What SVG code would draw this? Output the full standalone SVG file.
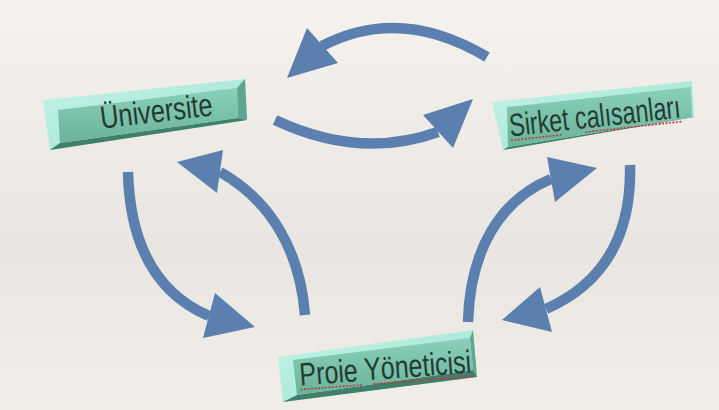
<svg xmlns="http://www.w3.org/2000/svg" width="719" height="410" viewBox="0 0 719 410">
<defs>
<linearGradient id="bg" x1="0" y1="0" x2="0" y2="1">
<stop offset="0" stop-color="#f5f2ed"/>
<stop offset="0.6" stop-color="#e9e5e0"/>
<stop offset="1" stop-color="#f1eee8"/>
</linearGradient>
<linearGradient id="face" x1="0" y1="0" x2="0" y2="1">
<stop offset="0" stop-color="#8ad0b8"/>
<stop offset="1" stop-color="#6ab39a"/>
</linearGradient>
<linearGradient id="rim" x1="0" y1="0" x2="1" y2="1">
<stop offset="0" stop-color="#c2f4e8"/>
<stop offset="1" stop-color="#9fe0cf"/>
</linearGradient>
</defs>
<style>
.rim{fill:url(#rim);}
.face{fill:url(#face);}
.bot{fill:#3f7f6b;}
.side{fill:#5fa58f;}
.lbl{font-family:"Liberation Sans",Arial,sans-serif;font-size:32px;fill:#263a34;text-anchor:middle;}
.sq{stroke:#c23a3a;stroke-width:1.6;stroke-dasharray:2 1.5;fill:none;}
.arr{fill:none;stroke:#5b80b0;stroke-width:10.5;}
.head{fill:#5b80b0;}
</style>
<rect width="719" height="410" fill="url(#bg)"/>

<g id="universite">
<polygon class="rim" points="43,100 245,79 247,120 50,150"/>
<polygon class="bot" points="60,143 238,118 247,120 50,150"/>
<polygon class="side" points="237,88 245,79 247,120 238,118"/>
<polygon class="face" points="58,110 237,88 238,118 60,143"/>
<text class="lbl" transform="translate(157.5,122) rotate(-6.8)" x="0" y="0" textLength="113" lengthAdjust="spacingAndGlyphs">Üniversite</text>
</g>

<g id="sirket">
<polygon class="rim" points="492,102 692,81 694,117 503,150"/>
<polygon class="bot" points="508,147 692,117 694,117 503,150"/>
<polygon class="face" points="507,107 691,87 692,117 508,147"/>
<g transform="translate(596,127) rotate(-6.3)">
<text class="lbl" x="0" y="0" textLength="172" lengthAdjust="spacingAndGlyphs">Sirket calısanları</text>
<line class="sq" x1="-86" y1="4" x2="-34" y2="4"/>
<line class="sq" x1="-11" y1="4" x2="86" y2="4"/>
</g>
</g>

<g id="proje">
<polygon class="rim" points="278,357 473,330 477,377 283,402"/>
<polygon class="bot" points="297,395 473,370 477,377 283,402"/>
<polygon class="side" points="470,338 473,330 477,377 473,370"/>
<polygon class="face" points="293,360 470,338 473,370 297,395"/>
<g transform="translate(386,379) rotate(-4.4)">
<text class="lbl" x="0" y="0" textLength="172" lengthAdjust="spacingAndGlyphs">Proie Yöneticisi</text>
<line class="sq" x1="-86" y1="4" x2="-24" y2="4"/>
<line class="sq" x1="-13" y1="4" x2="87" y2="4"/>
</g>
</g>

<g id="connectors">
<path class="arr" d="M487,57 Q400,5 322,46"/>
<polygon class="head" points="287,78 307,28 338,63"/>
<path class="arr" d="M275,120 Q360,160 438,132"/>
<polygon class="head" points="473,99 423,115 453,148"/>
<path class="arr" d="M128,172 C130,250 160,295 209,316"/>
<polygon class="head" points="255,327 215,293 203,338"/>
<path class="arr" d="M305,315 C300,250 270,200 220,172"/>
<polygon class="head" points="177,162 223,150 217,193"/>
<path class="arr" d="M468,322 C470,250 500,200 551,179"/>
<polygon class="head" points="597,168 547,157 555,202"/>
<path class="arr" d="M630,165 C632,240 600,285 546,309"/>
<polygon class="head" points="502,320 540,287 552,332"/>
</g>
</svg>
